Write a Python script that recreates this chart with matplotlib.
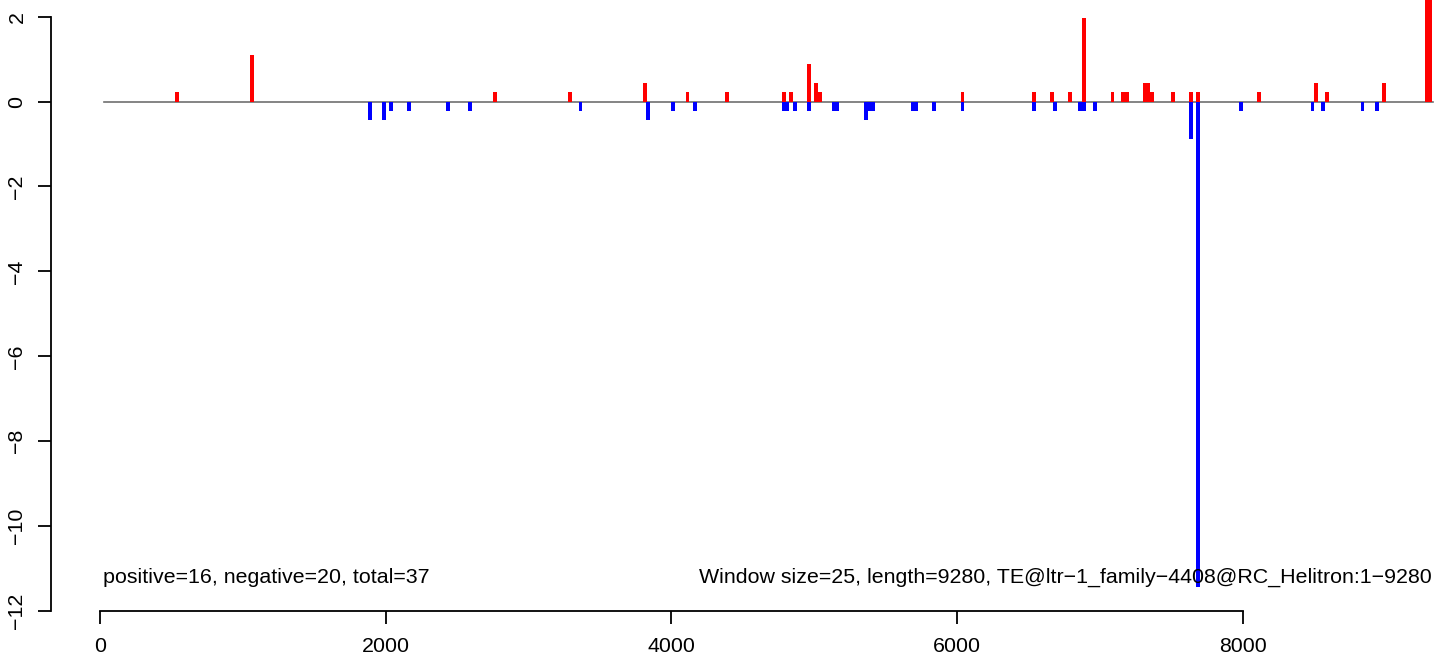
import matplotlib
matplotlib.use("Agg")
import matplotlib.pyplot as plt

plt.rcParams['font.family'] = ['Liberation Sans', 'DejaVu Sans']

#   Data: window start positions and scores
pos_x = [525, 1050, 2750, 3275, 3800, 4100, 4375, 4775, 4825, 4950, 5000, 5025,
         6025, 6525, 6650, 6775, 6875, 7075, 7150, 7175, 7300, 7325, 7350, 7500,
         7625, 7675, 8100, 8500, 8575, 8975, 9275, 9300]
pos_y = [0.22, 1.10, 0.22, 0.22, 0.44, 0.22, 0.22, 0.22, 0.22, 0.88, 0.44, 0.22,
         0.22, 0.22, 0.22, 0.22, 1.98, 0.22, 0.22, 0.22, 0.44, 0.44, 0.22, 0.22,
         0.22, 0.22, 0.22, 0.44, 0.22, 0.44, 3.0, 3.0]
neg_x = [1875, 1975, 2025, 2150, 2425, 2575, 3350, 3825, 4000, 4150, 4775, 4800,
         4850, 4950, 5125, 5150, 5350, 5375, 5400, 5675, 5700, 5825, 6025, 6525,
         6675, 6850, 6875, 6950, 7625, 7675, 7975, 8475, 8550, 8825, 8925]
neg_y = [-0.44, -0.44, -0.22, -0.22, -0.22, -0.22, -0.22, -0.44, -0.22, -0.22, -0.22, -0.22,
         -0.22, -0.22, -0.22, -0.22, -0.44, -0.22, -0.22, -0.22, -0.22, -0.22, -0.22, -0.22,
         -0.22, -0.22, -0.22, -0.22, -0.88, -11.44, -0.22, -0.22, -0.22, -0.22, -0.22]
seq_len = 9280
win = 25
x_ticks = [0, 2000, 4000, 6000, 8000]
y_ticks = [-12, -10, -8, -6, -4, -2, 0, 2]
left_note = "positive=16, negative=20, total=37"
right_note = "Window size=25, length=9280, TE@ltr\u22121_family\u22124408@RC_Helitron:1\u22129280"

FS = 15.4

fig = plt.figure(figsize=(14.52, 6.59), dpi=100)
ax = fig.add_axes([0, 0, 1, 1])
ax.set_xlim(-700.1, 9465.4)
ax.set_ylim(-13.13, 2.393)

# baseline
ax.plot([win, seq_len + 50], [0, 0], color='#707070', lw=1.2, zorder=1)
# bars
ax.bar(neg_x, neg_y, width=27, align='edge', color='#0000FF', lw=0, zorder=2)
ax.bar(pos_x, pos_y, width=27, align='edge', color='#FF0000', lw=0, zorder=3)

# R-style axes
for s in ['top', 'right']:
    ax.spines[s].set_visible(False)
ax.spines['left'].set_position(('data', -345))
ax.spines['left'].set_bounds(-12, 2)
ax.spines['bottom'].set_position(('data', -12))
ax.spines['bottom'].set_bounds(0, 8000)
ax.spines['left'].set_linewidth(1.3)
ax.spines['bottom'].set_linewidth(1.3)
ax.set_xticks(x_ticks)
ax.set_yticks(y_ticks)
ax.set_yticklabels([str(v).replace('-', '\u2212') for v in y_ticks])
ax.tick_params(axis='both', direction='out', length=9.5, width=1.3, labelsize=FS)
ax.tick_params(axis='y', labelrotation=90, pad=8)
ax.tick_params(axis='x', pad=9)
for lab in ax.get_yticklabels():
    lab.set_va('center')

ax.text(21, -11.2, left_note, ha='left', va='center', fontsize=FS)
ax.text(9325, -11.2, right_note, ha='right', va='center', fontsize=FS)

fig.savefig("out.png", dpi=100)
